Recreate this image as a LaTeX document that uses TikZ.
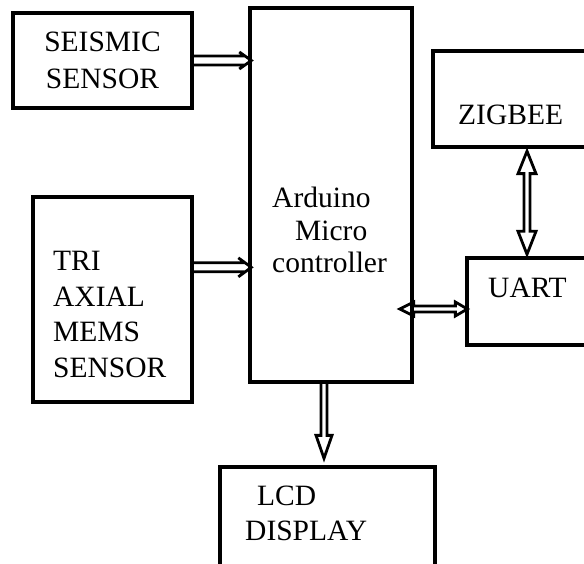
\documentclass[tikz,border=0pt]{standalone}
\usepackage{fontspec}
\setmainfont{Liberation Serif}
\usetikzlibrary{calc}
\begin{document}
\begin{tikzpicture}[x=1pt,y=-1pt,
  box/.style={draw, line width=3.3pt, inner sep=0pt},
  lbl/.style={inner sep=0pt, align=left, font=\fontsize{29.5}{35}\selectfont},
  arr/.style={draw, line width=2.8pt, line join=miter}]
\useasboundingbox (0,0) rectangle (584,564);
\clip (0,0) rectangle (584,564);
% boxes
\node[box, minimum width=179pt, minimum height=95pt, align=center,
      font=\fontsize{29.5}{37}\selectfont] (seis) at (102.5,60.5) {SEISMIC\\SENSOR};
\node[box, minimum width=162pt, minimum height=374pt] (ard) at (331,195) {};
\node[box, minimum width=159pt, minimum height=205pt] (tri) at (112.5,299.5) {};
\node[box, minimum width=167pt, minimum height=96pt] (zig) at (516.5,99) {};
\node[box, minimum width=133pt, minimum height=87pt] (uart) at (533.5,301.5) {};
\node[box, minimum width=215pt, minimum height=133pt] (lcd) at (327.5,533.5) {};
% texts
\node[lbl, anchor=north west, font=\fontsize{29.5}{32.5}\selectfont] (ardtxt) at (272,187)
  {Arduino\\\hspace*{23pt}Micro\\controller};
\node[lbl, anchor=north west, font=\fontsize{29.5}{35.7}\selectfont] (tritxt) at (53,251)
  {TRI\\AXIAL\\MEMS\\SENSOR};
\node[lbl, anchor=base west] (zigtxt) at (458,125) {ZIGBEE};
\node[lbl, anchor=base west] (uarttxt) at (488,298) {UART};
\node[lbl, anchor=north west] (lcdtxt) at (245,486) {\hspace*{12pt}LCD\\DISPLAY};
% connector end points
\coordinate (a1s) at (seis.east);
\coordinate (a1e) at (ard.west |- seis.east);
\coordinate (a2s) at ($(tri.north east)+(0,72)$);
\coordinate (a2e) at (ard.west |- a2s);
\coordinate (a3s) at ($(ard.south)+(-7,0)$);
\coordinate (a3e) at (lcd.north -| a3s);
\coordinate (a4s) at ($(zig.south)+(10.5,0)$);
\coordinate (a4e) at (uart.north -| a4s);
\coordinate (a5s) at ($(ard.east)+(0,114)$);
\coordinate (a5e) at (uart.west |- a5s);
% seismic -> arduino
\draw[arr] let \p1=(a1s), \p2=(a1e) in
  (\x1,\y1+4.5pt) -- (\x2-4pt,\y1+4.5pt) -- (\x2-9pt,\y1+8.5pt) -- (\x2+3pt,\y1)
  -- (\x2-9pt,\y1-8.5pt) -- (\x2-4pt,\y1-4.5pt) -- (\x1,\y1-4.5pt);
% tri axial -> arduino
\draw[arr] let \p1=(a2s), \p2=(a2e) in
  (\x1,\y1+4.5pt) -- (\x2-3.5pt,\y1+4.5pt) -- (\x2-10pt,\y1+9.5pt) -- (\x2+3pt,\y1)
  -- (\x2-10pt,\y1-9.5pt) -- (\x2-3.5pt,\y1-4.5pt) -- (\x1,\y1-4.5pt);
% arduino -> lcd
\draw[arr] let \p1=(a3s), \p2=(a3e) in
  (\x1-3pt,\y1) -- (\x1-3pt,\y2+30pt) -- (\x1-8pt,\y2+30pt) -- (\x1,\y2+7pt)
  -- (\x1+8pt,\y2+30pt) -- (\x1+3pt,\y2+30pt) -- (\x1+3pt,\y1);
% zigbee <-> uart
\draw[arr] let \p1=(a4s), \p2=(a4e) in
  (\x1,\y1-2.5pt) -- (\x1+9pt,\y1-25pt) -- (\x1+3pt,\y1-25pt) -- (\x1+3pt,\y2+25pt)
  -- (\x1+9pt,\y2+25pt) -- (\x1,\y2+2pt) -- (\x1-9pt,\y2+25pt) -- (\x1-3pt,\y2+25pt)
  -- (\x1-3pt,\y1-25pt) -- (\x1-9pt,\y1-25pt) -- cycle;
% arduino <-> uart
\draw[arr] let \p1=(a5s), \p2=(a5e) in
  (\x1-14pt,\y1) -- (\x1,\y1+7pt) -- (\x1,\y1+3pt) -- (\x2-10pt,\y1+3pt)
  -- (\x2-10pt,\y1+7pt) -- (\x2+2pt,\y1) -- (\x2-10pt,\y1-7pt) -- (\x2-10pt,\y1-3pt)
  -- (\x1,\y1-3pt) -- (\x1,\y1-7pt) -- cycle;
\end{tikzpicture}
\end{document}
